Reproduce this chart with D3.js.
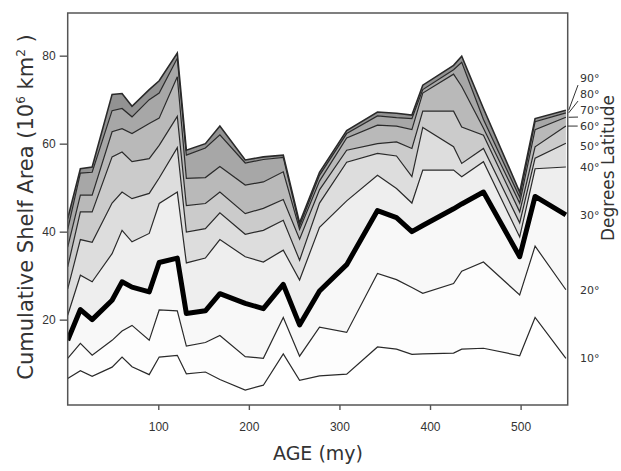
<!DOCTYPE html>
<html>
<head>
<meta charset="utf-8">
<script src="https://cdn.jsdelivr.net/npm/d3@7"></script>
<style>
  body { margin: 0; background: #fff; }
  svg { font-family: "DejaVu Sans", sans-serif; }
  .tick text { font-size: 12px; fill: #333; }
  .tick line { stroke: #555; stroke-width: 1.4; }
</style>
</head>
<body>
<div class="chart"></div>
<script>
// ages (my) where the bands were sampled
var ages = [0, 14, 27, 49, 60, 71, 90, 101, 121, 131, 152, 168, 196, 216, 238, 256, 278, 308, 342, 363, 380, 392, 426, 435, 459, 499, 516, 550];

// cumulative shelf area (10^6 km^2) up to each latitude
var lat10 = [6.6, 8.4, 7.1, 9.2, 11.5, 9.3, 7.5, 11.5, 11.9, 7.7, 8.1, 6.4, 4.0, 5.1, 12.2, 6.2, 7.2, 7.6, 13.8, 13.3, 12.1, 12.2, 12.4, 13.3, 13.5, 11.8, 20.5, 11.2];
var lat20 = [11.2, 14.6, 11.9, 15.3, 17.4, 18.7, 15.3, 22.2, 22.0, 14.0, 14.8, 16.4, 11.6, 11.2, 20.5, 11.7, 18.3, 17.1, 30.5, 29.1, 27.3, 26.0, 28.2, 31.0, 33.1, 25.6, 36.7, 26.8];
var lat30 = [15.3, 22.3, 20.0, 24.4, 28.6, 27.4, 26.3, 33.0, 34.0, 21.4, 22.0, 25.9, 23.7, 22.5, 28.0, 18.8, 26.5, 32.5, 44.8, 43.2, 40.0, 41.4, 45.2, 46.3, 49.0, 34.3, 48.0, 43.8];
var lat40 = [21.0, 30.1, 28.6, 35.0, 40.3, 37.7, 39.6, 46.4, 49.0, 32.9, 34.0, 38.2, 34.3, 33.1, 35.8, 29.0, 41.0, 47.0, 52.8, 49.8, 46.5, 54.0, 54.0, 52.5, 55.9, 38.8, 54.3, 54.7];
var lat50 = [27.0, 38.2, 37.6, 46.5, 49.0, 47.5, 48.7, 52.2, 59.1, 39.9, 40.7, 44.3, 39.4, 40.3, 42.6, 33.5, 46.5, 55.8, 57.8, 57.2, 52.5, 63.7, 59.3, 55.5, 58.9, 42.0, 56.7, 60.1];
var lat60 = [32.0, 44.5, 44.5, 57.0, 58.1, 55.9, 56.6, 59.6, 66.2, 45.9, 46.4, 49.0, 44.1, 45.3, 47.3, 38.3, 49.5, 58.5, 60.0, 60.4, 58.9, 67.4, 67.4, 63.8, 61.9, 44.5, 59.3, 64.0];
var lat70 = [36.5, 48.3, 48.3, 62.7, 63.4, 62.3, 64.6, 65.8, 75.2, 52.1, 52.3, 54.8, 50.6, 51.3, 53.6, 40.5, 51.5, 61.3, 64.2, 64.0, 63.2, 71.5, 75.8, 73.0, 63.5, 46.5, 63.2, 66.0];
var lat80 = [40.5, 53.3, 53.5, 67.5, 68.0, 66.1, 70.0, 71.5, 79.4, 57.4, 59.0, 62.0, 55.6, 56.4, 56.9, 41.3, 52.8, 62.3, 66.3, 65.9, 65.7, 72.3, 76.8, 78.5, 65.5, 47.8, 65.0, 67.0];
var lat90 = [43.0, 54.3, 54.7, 71.2, 71.4, 68.5, 72.3, 74.3, 80.6, 58.5, 60.0, 64.0, 56.3, 57.0, 57.4, 42.0, 53.5, 63.0, 67.2, 66.9, 66.5, 73.3, 77.8, 79.9, 68.0, 49.0, 65.7, 67.6];

var latNames = ["10°", "20°", "30°", "40°", "50°", "60°", "70°", "80°", "90°"];
var xTicks = [100, 200, 300, 400, 500];
var yTicks = [20, 40, 60, 80];

var series = [lat10, lat20, lat30, lat40, lat50, lat60, lat70, lat80, lat90];
var bandColors = ["#fdfdfd", "#f8f8f8", "#eeeeee", "#dddddd", "#cbcbcb", "#b9b9b9", "#a7a7a7", "#929292"];

var svgWidth = 621;
var svgHeight = 471;
var plot = { left: 67.7, right: 567.7, top: 13, bottom: 405 };

var svg = d3.select(".chart")
  .append("svg")
  .attr("width", svgWidth)
  .attr("height", svgHeight);

var x = d3.scaleLinear().domain([0, 552]).range([plot.left, plot.right]);
var y = d3.scaleLinear().domain([0.6, 89.7]).range([plot.bottom, plot.top]);

svg.append("clipPath").attr("id", "clip")
  .append("rect")
  .attr("x", plot.left).attr("y", plot.top)
  .attr("width", plot.right - plot.left).attr("height", plot.bottom - plot.top);

var chart = svg.append("g").attr("clip-path", "url(#clip)");

// filled bands between successive latitude curves
for (var i = 1; i < series.length; i++) {
  var lower = series[i - 1], upper = series[i];
  var area = d3.area()
    .x(function (d, j) { return x(ages[j]); })
    .y0(function (d, j) { return y(lower[j]); })
    .y1(function (d, j) { return y(upper[j]); });
  chart.append("path")
    .datum(ages)
    .attr("d", area)
    .attr("fill", bandColors[i - 1]);
}

// the latitude curves
series.forEach(function (s, i) {
  var line = d3.line()
    .x(function (d, j) { return x(ages[j]); })
    .y(function (d) { return y(d); });
  chart.append("path")
    .datum(s)
    .attr("d", line)
    .attr("fill", "none")
    .attr("stroke", i === 2 ? "#000" : "#2a2a2a")
    .attr("stroke-width", i === 2 ? 5 : (i === 8 ? 1.6 : 1.2))
    .attr("stroke-linejoin", i === 2 ? "round" : "miter");
});

// frame
svg.append("rect")
  .attr("x", plot.left).attr("y", plot.top)
  .attr("width", plot.right - plot.left).attr("height", plot.bottom - plot.top)
  .attr("fill", "none")
  .attr("stroke", "#555")
  .attr("stroke-width", 1.5);

var yAxis = svg.append("g")
  .attr("transform", `translate(${plot.left},0)`)
  .call(d3.axisLeft(y).tickValues(yTicks).tickSize(8).tickPadding(4));
yAxis.select(".domain").remove();

var xAxis = svg.append("g")
  .attr("transform", `translate(0,${plot.bottom})`)
  .call(d3.axisBottom(x).tickValues(xTicks).tickSize(5).tickPadding(12));
xAxis.select(".domain").remove();

// axis titles
svg.append("text")
  .attr("transform", "translate(33,207) rotate(-90)")
  .attr("text-anchor", "middle")
  .style("font-size", "21px")
  .style("fill", "#333")
  .html("Cumulative Shelf Area (10<tspan dy='-8' font-size='12'>6</tspan><tspan dy='8'> km</tspan><tspan dy='-8' font-size='12'>2</tspan><tspan dy='8'> )</tspan>");

svg.append("text")
  .attr("x", 318)
  .attr("y", 460)
  .attr("text-anchor", "middle")
  .style("font-size", "19px")
  .style("fill", "#333")
  .text("AGE (my)");

svg.append("text")
  .attr("transform", "translate(614,168) rotate(-90)")
  .attr("text-anchor", "middle")
  .style("font-size", "17px")
  .style("fill", "#333")
  .text("Degrees Latitude");

// latitude labels at the right edge
var last = ages.length - 1;
var y60 = y(lat60[last]);
series.forEach(function (s, i) {
  var lineY = y(s[last]);
  var labelY = i < 6 ? lineY + (i === 4 ? 3 : 0) : y60 - 16 * (i - 5);
  svg.append("text")
    .attr("x", 580)
    .attr("y", labelY + 4)
    .style("font-size", "11px")
    .style("fill", "#333")
    .text(latNames[i]);
  if (i === 5) {
    svg.append("line")
      .attr("x1", plot.right).attr("x2", plot.right + 10)
      .attr("y1", lineY).attr("y2", lineY)
      .attr("stroke", "#333").attr("stroke-width", 1);
  } else if (i > 5) {
    svg.append("line")
      .attr("x1", plot.right + 1).attr("y1", lineY)
      .attr("x2", 578).attr("y2", labelY + 7)
      .attr("stroke", "#333").attr("stroke-width", 1);
  }
});
</script>
</body>
</html>
